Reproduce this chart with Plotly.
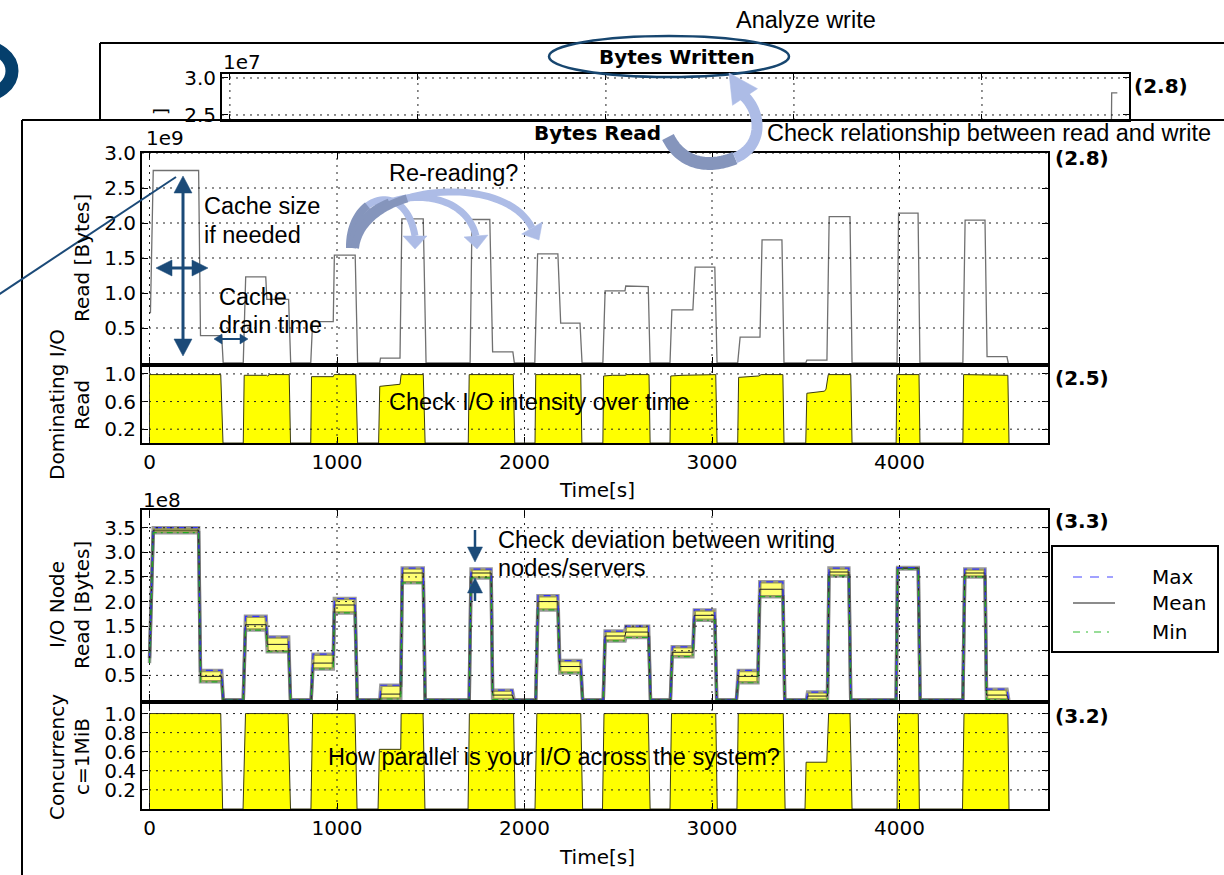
import plotly.graph_objects as go

W, H = 1224, 875

# ---------------- data ----------------
x_tick_vals = [0, 1000, 2000, 3000, 4000]
x_tick_text = ["0", "1000", "2000", "3000", "4000"]

written_ticks = [2.5, 3.0]
read_ticks = [0.5, 1.0, 1.5, 2.0, 2.5, 3.0]
dom_ticks = [0.2, 0.6, 1.0]
io_ticks = [0.5, 1.0, 1.5, 2.0, 2.5, 3.0, 3.5]
conc_ticks = [0.2, 0.4, 0.6, 0.8, 1.0]

# Bytes written (x1e7)
written_time = [0, 4680, 4690, 4720]
written_val = [0.0, 0.0, 2.8, 2.8]

# Bytes read (x1e9)
read_time = [5, 20, 262, 272, 385, 393, 500, 513, 620, 626, 742, 753, 860, 870, 980, 986, 1097, 1110,
             1228, 1232, 1336, 1346, 1460, 1475, 1710, 1720, 1815, 1830, 1938, 1946, 2055, 2070, 2178, 2193,
             2296, 2307, 2418, 2430, 2536, 2540, 2660, 2670, 2776, 2786, 2898, 2910, 3015, 3027, 3137, 3150,
             3256, 3267, 3373, 3384, 3500, 3506, 3613, 3625, 3736, 3747, 3987, 3995, 4099, 4109, 4338, 4350,
             4456, 4467, 4573, 4580]
read_val = [0.71, 2.75, 2.75, 0.39, 0.39, 0.0, 0.0, 1.23, 1.23, 0.91, 0.91, 0.0, 0.0, 0.59, 0.59, 1.54, 1.54, 0.0,
            0.0, 0.07, 0.07, 2.06, 2.06, 0.0, 0.0, 2.05, 2.05, 0.16, 0.16, 0.0, 0.0, 1.56, 1.56, 0.57,
            0.57, 0.0, 0.0, 1.03, 1.03, 1.10, 1.09, 0.0, 0.0, 0.76, 0.76, 1.37, 1.37, 0.0, 0.0, 0.37,
            0.37, 1.76, 1.76, 0.0, 0.0, 0.04, 0.04, 2.09, 2.09, 0.0, 0.0, 2.14, 2.14, 0.0, 0.0, 2.04,
            2.04, 0.09, 0.09, 0.0]

# Dominating I/O: read fraction
dom_time = [0, 0, 380, 392, 500, 505, 625, 630, 640, 745, 752, 860, 864, 980, 985, 1100, 1110,
            1222, 1228, 1330, 1336, 1342, 1460, 1470, 1700, 1705, 1940, 1948, 2056, 2060, 2300, 2306,
            2418, 2422, 2470, 2540, 2545, 2664, 2670, 2776, 2780, 2840, 2900, 2905, 3020, 3027,
            3137, 3142, 3250, 3262, 3378, 3384, 3500, 3506, 3600, 3608, 3620, 3740, 3747,
            3982, 3986, 4104, 4109, 4338, 4342, 4578, 4584]
dom_val = [0, 0.99, 0.99, 0, 0, 0.98, 0.98, 0.97, 0.99, 0.99, 0, 0, 0.96, 0.96, 0.99, 0.99, 0,
           0, 0.82, 0.85, 0.85, 0.99, 0.99, 0, 0, 0.99, 0.99, 0, 0, 0.99, 0.99, 0,
           0, 0.97, 0.98, 0.98, 0.99, 0.99, 0, 0, 0.97, 0.98, 0.98, 0.99, 0.99, 0,
           0, 0.95, 0.97, 0.99, 0.99, 0, 0, 0.72, 0.75, 0.78, 0.99, 0.99, 0,
           0, 0.99, 0.99, 0, 0, 0.99, 0.98, 0]

# I/O node read (x1e8)
io_time = [0, 20, 262, 272, 385, 393, 500, 512, 622, 628, 742, 752, 862, 872, 980, 986, 1096, 1108,
           1228, 1234, 1340, 1348, 1460, 1470, 1705, 1715, 1822, 1830, 1935, 1945, 2060, 2072, 2178, 2188,
           2300, 2310, 2420, 2430, 2536, 2540, 2662, 2672, 2778, 2788, 2898, 2906, 3015, 3025,
           3130, 3140, 3245, 3255, 3378, 3388, 3503, 3510, 3616, 3624, 3730, 3740, 3982, 3990, 4100, 4110,
           4338, 4348, 4456, 4464, 4573, 4583]
io_max = [0.85, 3.50, 3.50, 0.60, 0.60, 0, 0, 1.70, 1.70, 1.28, 1.28, 0, 0, 0.93, 0.93, 2.06, 2.06, 0,
          0, 0.30, 0.30, 2.68, 2.68, 0, 0, 2.66, 2.66, 0.20, 0.20, 0, 0, 2.12, 2.12, 0.80,
          0.80, 0, 0, 1.40, 1.40, 1.50, 1.50, 0, 0, 1.08, 1.08, 1.83, 1.83, 0,
          0, 0.60, 0.60, 2.40, 2.40, 0, 0, 0.16, 0.16, 2.68, 2.68, 0, 0, 2.69, 2.69, 0,
          0, 2.66, 2.66, 0.22, 0.22, 0]
io_mean = [0.80, 3.45, 3.45, 0.48, 0.48, 0, 0, 1.53, 1.53, 1.13, 1.13, 0, 0, 0.75, 0.75, 1.93, 1.93, 0,
           0, 0.12, 0.12, 2.58, 2.58, 0, 0, 2.58, 2.58, 0.10, 0.10, 0, 0, 2.00, 2.00, 0.68,
           0.68, 0, 0, 1.30, 1.30, 1.38, 1.38, 0, 0, 0.97, 0.97, 1.72, 1.72, 0,
           0, 0.48, 0.48, 2.25, 2.25, 0, 0, 0.08, 0.08, 2.60, 2.60, 0, 0, 2.68, 2.68, 0,
           0, 2.58, 2.58, 0.10, 0.10, 0]
io_min = [0.75, 3.40, 3.40, 0.37, 0.37, 0, 0, 1.42, 1.42, 0.98, 0.98, 0, 0, 0.63, 0.63, 1.77, 1.77, 0,
          0, 0.02, 0.02, 2.38, 2.38, 0, 0, 2.48, 2.48, 0.01, 0.01, 0, 0, 1.83, 1.83, 0.55,
          0.55, 0, 0, 1.20, 1.20, 1.27, 1.27, 0, 0, 0.88, 0.88, 1.62, 1.62, 0,
          0, 0.35, 0.35, 2.10, 2.10, 0, 0, 0.00, 0.00, 2.52, 2.52, 0, 0, 2.66, 2.66, 0,
          0, 2.50, 2.50, 0.01, 0.01, 0]

# Concurrency c=1MiB
conc_time = [0, 0, 380, 390, 499, 512, 739, 752, 861, 870, 1096, 1107, 1219, 1226, 1340, 1342, 1459, 1469,
             1699, 1706, 1942, 1950, 2056, 2066, 2300, 2310, 2416, 2424, 2660, 2670, 2776, 2784, 3020, 3028,
             3133, 3140, 3380, 3390, 3496, 3502, 3612, 3622, 3736, 3747, 3987, 3990, 4100, 4106,
             4336, 4344, 4578, 4584]
conc_val = [0, 1, 1, 0, 0, 1, 1, 0, 0, 1, 1, 0, 0, 0.625, 0.625, 1, 1, 0,
            0, 1, 1, 0, 0, 1, 1, 0, 0, 1, 1, 0, 0, 1, 1, 0,
            0, 1, 1, 0, 0, 0.49, 0.49, 1, 1, 0, 0, 1, 1, 0,
            0, 1, 1, 0]

legend_names = ["Max", "Mean", "Min"]

# ---------------- helpers ----------------
NAVY = "#1b4a78"
DARKARC = "#8595bc"
LIGHTARC = "#adbce6"
ARIAL = "Liberation Sans, Arial"
DEJAVU = "DejaVu Sans"


def fx(x):
    return x / W


def fy(y):
    return 1 - y / H


def fmt(vals):
    return ["%.1f" % v for v in vals]


TICKFONT = dict(family=DEJAVU, size=20, color="black")


def axis(**kw):
    d = dict(showline=True, linecolor="black", linewidth=2, mirror="ticks", ticks="inside",
             ticklen=6, tickwidth=1, tickcolor="black", showgrid=False, zeroline=False,
             tickfont=TICKFONT, fixedrange=True, automargin=False)
    d.update(kw)
    return d


MAIN_X = [fx(142), fx(1048)]
XR = [-40, 4792]

fig = go.Figure()

# Bytes written
fig.add_trace(go.Scatter(x=written_time, y=written_val, mode="lines", xaxis="x5", yaxis="y5",
                         line=dict(color="#707070", width=1.3)))
# Bytes read
fig.add_trace(go.Scatter(x=read_time, y=read_val, mode="lines", xaxis="x", yaxis="y",
                         line=dict(color="#707070", width=1.3)))
# Dominating
fig.add_trace(go.Scatter(x=dom_time, y=dom_val, mode="lines", xaxis="x2", yaxis="y2",
                         fill="tozeroy", fillcolor="#ffff00", line=dict(color="#3a3a10", width=1)))
# I/O node read
fig.add_trace(go.Scatter(x=io_time, y=io_min, mode="lines", xaxis="x3", yaxis="y3",
                         line=dict(color="rgba(70,70,70,0.55)", width=3.5)))
fig.add_trace(go.Scatter(x=io_time, y=io_max, mode="lines", xaxis="x3", yaxis="y3",
                         fill="tonexty", fillcolor="rgba(255,255,40,0.65)",
                         line=dict(color="rgba(70,70,70,0.55)", width=3.5)))
fig.add_trace(go.Scatter(x=io_time, y=io_mean, mode="lines", xaxis="x3", yaxis="y3", name=legend_names[1],
                         line=dict(color="#222222", width=1)))
fig.add_trace(go.Scatter(x=io_time, y=io_max, mode="lines", xaxis="x3", yaxis="y3", name=legend_names[0],
                         line=dict(color="#3333ff", width=1.2, dash="7px,5px")))
fig.add_trace(go.Scatter(x=io_time, y=io_min, mode="lines", xaxis="x3", yaxis="y3", name=legend_names[2],
                         line=dict(color="#22aa22", width=1.2, dash="6px,4px,2px,4px")))
# Concurrency
fig.add_trace(go.Scatter(x=conc_time, y=conc_val, mode="lines", xaxis="x4", yaxis="y4",
                         fill="tozeroy", fillcolor="#ffff00", line=dict(color="#3a3a10", width=1)))

layout = dict(
    width=W, height=H, autosize=False,
    margin=dict(l=0, r=0, t=0, b=0, pad=0, autoexpand=False),
    paper_bgcolor="white", plot_bgcolor="rgba(0,0,0,0)", showlegend=False,
    xaxis=axis(domain=MAIN_X, anchor="y", range=XR, tickvals=x_tick_vals, ticktext=x_tick_text,
               showticklabels=False),
    yaxis=axis(domain=[fy(363), fy(153)], anchor="x", range=[0, 3.0], tickvals=read_ticks,
               ticktext=fmt(read_ticks)),
    xaxis2=axis(domain=MAIN_X, anchor="y2", range=XR, tickvals=x_tick_vals, ticktext=x_tick_text),
    yaxis2=axis(domain=[fy(443), fy(367)], anchor="x2", range=[0, 1.1], tickvals=dom_ticks,
                ticktext=fmt(dom_ticks)),
    xaxis3=axis(domain=MAIN_X, anchor="y3", range=XR, tickvals=x_tick_vals, ticktext=x_tick_text,
                showticklabels=False),
    yaxis3=axis(domain=[fy(700), fy(510)], anchor="x3", range=[0, 3.86], tickvals=io_ticks,
                ticktext=fmt(io_ticks)),
    xaxis4=axis(domain=MAIN_X, anchor="y4", range=XR, tickvals=x_tick_vals, ticktext=x_tick_text),
    yaxis4=axis(domain=[fy(809), fy(704)], anchor="x4", range=[0, 1.1], tickvals=conc_ticks,
                ticktext=fmt(conc_ticks)),
    xaxis5=axis(domain=[fx(222), fx(1129)], anchor="y5", range=[-42, 4782], tickvals=x_tick_vals,
                ticktext=x_tick_text, showticklabels=False),
    yaxis5=axis(domain=[fy(120), fy(74)], anchor="x5", range=[2.432, 3.054], tickvals=written_ticks,
                ticktext=fmt(written_ticks)),
)

shapes = []
annotations = []

# gridlines on top (matplotlib style)
GRID = dict(color="#222222", width=1, dash="2px,5px")
panels = [("x", "y", read_ticks), ("x2", "y2", dom_ticks), ("x3", "y3", io_ticks),
          ("x4", "y4", conc_ticks), ("x5", "y5", written_ticks)]
for xa, ya, yt in panels:
    for v in x_tick_vals:
        shapes.append(dict(type="line", xref=xa, yref=ya + " domain", x0=v, x1=v, y0=0, y1=1,
                           line=GRID, layer="above"))
    for v in yt:
        shapes.append(dict(type="line", xref=xa + " domain", yref=ya, x0=0, x1=1, y0=v, y1=v,
                           line=GRID, layer="above"))


def seg(x0, y0, x1, y1, color, width, dash=None):
    ln = dict(color=color, width=width)
    if dash:
        ln["dash"] = dash
    shapes.append(dict(type="line", xref="paper", yref="paper", x0=fx(x0), y0=fy(y0),
                       x1=fx(x1), y1=fy(y1), line=ln, layer="above"))


def poly(points, color, width=0, fill=None, closed=False):
    s = "M " + " L ".join("%.5f,%.5f" % (fx(x), fy(y)) for x, y in points)
    if closed:
        s += " Z"
    d = dict(type="path", xref="paper", yref="paper", path=s, layer="above",
             line=dict(color=color, width=width))
    if fill:
        d["fillcolor"] = fill
    shapes.append(d)


def bez(p0, p1, p2, p3, n=40):
    pts = []
    for i in range(n + 1):
        t = i / n
        a = (1 - t) ** 3
        b = 3 * (1 - t) ** 2 * t
        c = 3 * (1 - t) * t ** 2
        d = t ** 3
        pts.append((a * p0[0] + b * p1[0] + c * p2[0] + d * p3[0],
                    a * p0[1] + b * p1[1] + c * p2[1] + d * p3[1]))
    return pts


def head(tip, base, halfw, color):
    dx, dy = tip[0] - base[0], tip[1] - base[1]
    L = (dx * dx + dy * dy) ** 0.5
    nx, ny = -dy / L, dx / L
    poly([tip, (base[0] + nx * halfw, base[1] + ny * halfw), (base[0] - nx * halfw, base[1] - ny * halfw)],
         color, 0.5, fill=color, closed=True)


def txt(s, x, y, size=23.5, family=ARIAL, xanchor="left", yanchor="middle", angle=0, color="black"):
    annotations.append(dict(text=s, x=fx(x), y=fy(y), xref="paper", yref="paper", showarrow=False,
                            xanchor=xanchor, yanchor=yanchor, textangle=angle,
                            font=dict(family=family, size=size, color=color)))


# frames
seg(100, 43, 1240, 43, "black", 2)
seg(100, 43, 100, 120, "black", 2)
seg(22, 120, 1240, 120, "black", 2)
seg(22, 120, 22, 890, "black", 2)

# big partial letter at left
shapes.append(dict(type="circle", xref="paper", yref="paper", x0=fx(-52), x1=fx(12), y0=fy(96), y1=fy(46),
                   line=dict(color="#053f6c", width=13), layer="above"))

# ellipse around "Bytes Written"
shapes.append(dict(type="circle", xref="paper", yref="paper", x0=fx(549), x1=fx(789), y0=fy(77), y1=fy(36),
                   line=dict(color="#17466f", width=2.5), layer="above"))

# curved arrow read -> write
pts1 = bez((668, 137), (680, 162), (706, 170), (735, 158))
pts2 = bez((735, 158), (764, 146), (762, 112), (743, 95))
poly(pts1, DARKARC, 13)
poly(pts2, LIGHTARC, 11)
head((729, 73), (745, 97), 15, LIGHTARC)

# re-reading arrows
arcs = [((350, 248), (349, 195), (405, 178), (415, 236), (415, 249)),
        ((352, 248), (356, 188), (462, 178), (476, 236), (477, 249)),
        ((355, 248), (362, 183), (505, 172), (532, 228), (539, 240))]
for p0, p1, p2, p3, tip in arcs:
    pts = bez(p0, p1, p2, p3)
    poly(pts[14:], LIGHTARC, 7)
for p0, p1, p2, p3, tip in arcs:
    pts = bez(p0, p1, p2, p3)
    poly(pts[:16], DARKARC, 8)
for p0, p1, p2, p3, tip in arcs:
    head(tip, p3, 12, LIGHTARC)

# navy annotation arrows
seg(183, 190, 183, 342, NAVY, 3)
head((183, 176), (183, 193), 9, NAVY)
head((183, 356), (183, 339), 9, NAVY)
seg(170, 268, 195, 268, NAVY, 3)
head((156, 268), (172, 268), 8, NAVY)
head((208, 268), (192, 268), 8, NAVY)
seg(220, 339, 242, 339, NAVY, 2)
head((214, 339), (222, 339), 5, NAVY)
head((248, 339), (240, 339), 5, NAVY)
seg(176, 177, -5, 297, NAVY, 2)
seg(475, 530, 475, 549, NAVY, 2.5)
head((475, 562), (475, 547), 7.5, NAVY)
seg(475, 590, 475, 601, NAVY, 2.5)
head((475, 578), (475, 593), 7.5, NAVY)

# manual legend
shapes.append(dict(type="rect", xref="paper", yref="paper", x0=fx(1052), x1=fx(1218), y0=fy(652), y1=fy(546),
                   line=dict(color="black", width=2), fillcolor="white", layer="above"))
seg(1073, 577, 1113, 577, "#4444ff", 1.2, "9px,8px")
seg(1073, 603, 1115, 603, "#666666", 1.5)
seg(1073, 632, 1113, 632, "#33bb33", 1.2, "7px,6px,2px,6px")
txt(legend_names[0], 1150, 577, size=20, family=DEJAVU)
txt(legend_names[1], 1150, 603, size=20, family=DEJAVU)
txt(legend_names[2], 1150, 632, size=20, family=DEJAVU)

# titles / labels
txt("Analyze write", 806, 20, xanchor="center")
txt("<b>Bytes Written</b>", 677, 57, size=20, family=DEJAVU, xanchor="center")
txt("<b>Bytes Read</b>", 597, 133, size=20, family=DEJAVU, xanchor="center")
txt("Check relationship between read and write", 765, 133)
txt("<b>(2.8)</b>", 1132, 86, size=20, family=DEJAVU)
txt("<b>(2.8)</b>", 1053, 158, size=20, family=DEJAVU)
txt("<b>(2.5)</b>", 1053, 378, size=20, family=DEJAVU)
txt("<b>(3.3)</b>", 1053, 521, size=20, family=DEJAVU)
txt("<b>(3.2)</b>", 1053, 716, size=20, family=DEJAVU)
txt("1e7", 221, 62, size=20, family=DEJAVU)
txt("1e9", 144, 138, size=20, family=DEJAVU)
txt("1e8", 141, 500, size=20, family=DEJAVU)
txt("]", 160, 112, size=18, family=DEJAVU, xanchor="center", angle=-90)

txt("Re-reading?", 387, 173)
txt("Cache size", 202, 206)
txt("if needed", 202, 235)
txt("Cache", 217, 297)
txt("drain time", 217, 325)
txt("Check I/O intensity over time", 387, 402)
txt("Check deviation between writing", 496, 540)
txt("nodes/servers", 496, 568)
txt("How parallel is your I/O across the system?", 326, 757)

txt("Time[s]", 597, 490, size=20, family=DEJAVU, xanchor="center")
txt("Time[s]", 597, 857, size=20, family=DEJAVU, xanchor="center")

txt("Read [Bytes]", 82, 258, size=20, family=DEJAVU, xanchor="center", angle=-90)
txt("Dominating I/O", 57, 405, size=20, family=DEJAVU, xanchor="center", angle=-90)
txt("Read", 82, 405, size=20, family=DEJAVU, xanchor="center", angle=-90)
txt("I/O Node", 57, 605, size=20, family=DEJAVU, xanchor="center", angle=-90)
txt("Read [Bytes]", 82, 605, size=20, family=DEJAVU, xanchor="center", angle=-90)
txt("Concurrency", 57, 757, size=20, family=DEJAVU, xanchor="center", angle=-90)
txt("c=1MiB", 82, 757, size=20, family=DEJAVU, xanchor="center", angle=-90)

layout["shapes"] = shapes
layout["annotations"] = annotations
fig.update_layout(**layout)

fig.write_html("out.html", config={"displayModeBar": False, "staticPlot": True, "responsive": False},
               post_script="document.body.style.margin='0';document.body.style.overflow='hidden';")
